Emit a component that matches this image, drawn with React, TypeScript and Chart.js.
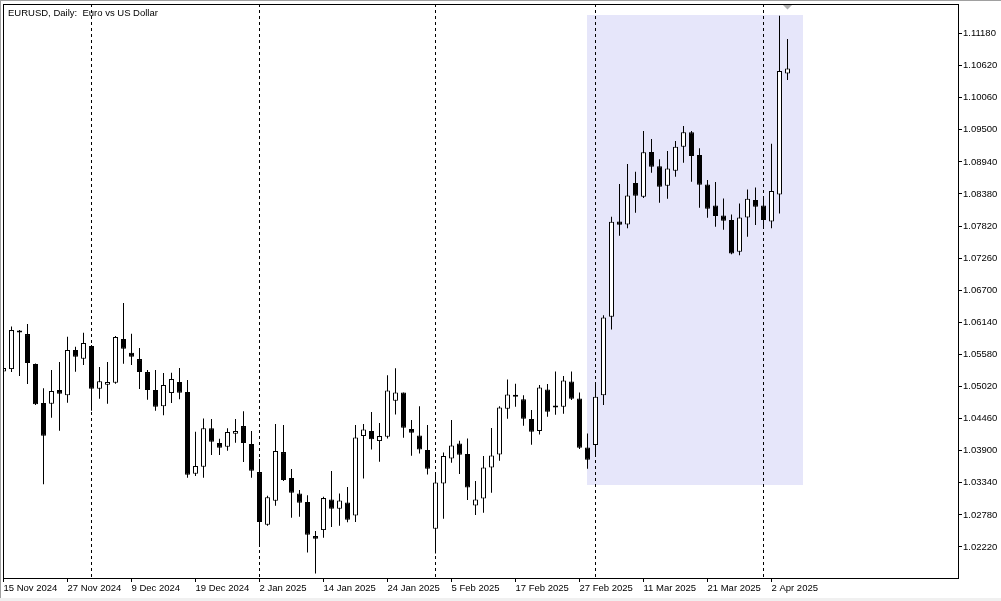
import { useEffect, useRef } from "react";
import { Chart, registerables } from "chart.js";

Chart.register(...registerables);

// ---- data -------------------------------------------------------------
const TITLE = "EURUSD, Daily:  Euro vs US Dollar";

const dates = [
  "2024-11-15", "2024-11-18", "2024-11-19", "2024-11-20", "2024-11-21", "2024-11-22", "2024-11-25", "2024-11-26", "2024-11-27", "2024-11-28", "2024-11-29",
  "2024-12-02", "2024-12-03", "2024-12-04", "2024-12-05", "2024-12-06", "2024-12-09", "2024-12-10", "2024-12-11", "2024-12-12", "2024-12-13",
  "2024-12-16", "2024-12-17", "2024-12-18", "2024-12-19", "2024-12-20", "2024-12-23", "2024-12-24", "2024-12-26", "2024-12-27", "2024-12-30", "2024-12-31",
  "2025-01-02", "2025-01-03", "2025-01-06", "2025-01-07", "2025-01-08", "2025-01-09", "2025-01-10", "2025-01-13", "2025-01-14", "2025-01-15", "2025-01-16", "2025-01-17",
  "2025-01-20", "2025-01-21", "2025-01-22", "2025-01-23", "2025-01-24", "2025-01-27", "2025-01-28", "2025-01-29", "2025-01-30", "2025-01-31",
  "2025-02-03", "2025-02-04", "2025-02-05", "2025-02-06", "2025-02-07", "2025-02-10", "2025-02-11", "2025-02-12", "2025-02-13", "2025-02-14",
  "2025-02-17", "2025-02-18", "2025-02-19", "2025-02-20", "2025-02-21", "2025-02-24", "2025-02-25", "2025-02-26", "2025-02-27", "2025-02-28",
  "2025-03-03", "2025-03-04", "2025-03-05", "2025-03-06", "2025-03-07", "2025-03-10", "2025-03-11", "2025-03-12", "2025-03-13", "2025-03-14",
  "2025-03-17", "2025-03-18", "2025-03-19", "2025-03-20", "2025-03-21", "2025-03-24", "2025-03-25", "2025-03-26", "2025-03-27", "2025-03-28", "2025-03-31",
  "2025-04-01", "2025-04-02", "2025-04-03", "2025-04-04",
];

const opens = [
  1.05281, 1.05324, 1.05996, 1.05935, 1.05412, 1.04731, 1.04718, 1.04958, 1.04870, 1.05656,
  1.05504, 1.05726, 1.04980, 1.05050, 1.05085, 1.05848, 1.05609, 1.05499, 1.05272, 1.04958,
  1.04678, 1.04906, 1.05097, 1.04923, 1.03497, 1.03620, 1.04290, 1.04033, 1.03969, 1.04195,
  1.04330, 1.04016, 1.03527, 1.02607, 1.03026, 1.03876, 1.03422, 1.03155, 1.03003, 1.02410,
  1.02515, 1.03050, 1.02886, 1.02998, 1.02771, 1.04155, 1.04243, 1.04068, 1.04143, 1.04771,
  1.04917, 1.04277, 1.04167, 1.03911, 1.02540, 1.03329, 1.03766, 1.04027, 1.03841, 1.02946,
  1.03068, 1.03609, 1.03836, 1.04631, 1.04870, 1.04800, 1.04452, 1.04243, 1.04969, 1.04652,
  1.04666, 1.05109, 1.04813, 1.03958, 1.03998, 1.04870, 1.06237, 1.07901, 1.07849, 1.08570,
  1.08330, 1.09111, 1.08866, 1.08523, 1.08784, 1.09204, 1.09455, 1.09061, 1.08547, 1.08180,
  1.08006, 1.07924, 1.07371, 1.07971, 1.08273, 1.08180, 1.07901, 1.08369, 1.10484,
];

const highs = [
  1.05351, 1.06066, 1.06005, 1.06110, 1.05420, 1.04992, 1.05307, 1.05447, 1.05888, 1.05714,
  1.05960, 1.05743, 1.05359, 1.05447, 1.05900, 1.06476, 1.05943, 1.05691, 1.05307, 1.05307,
  1.05254, 1.05260, 1.05342, 1.05132, 1.04230, 1.04464, 1.04452, 1.04108, 1.04290, 1.04452,
  1.04590, 1.04243, 1.03754, 1.03113, 1.04365, 1.04347, 1.03579, 1.03213, 1.03125, 1.02497,
  1.03096, 1.03545, 1.03155, 1.03265, 1.04347, 1.04365, 1.04577, 1.04382, 1.05219, 1.05337,
  1.04917, 1.04435, 1.04678, 1.04347, 1.03521, 1.03871, 1.04435, 1.04073, 1.04115, 1.03370,
  1.03806, 1.04295, 1.04678, 1.05144, 1.05068, 1.04870, 1.04609, 1.05045, 1.05063, 1.05284,
  1.05202, 1.05284, 1.04917, 1.04201, 1.05085, 1.06266, 1.07981, 1.08552, 1.08901, 1.08767,
  1.09478, 1.09338, 1.08984, 1.09128, 1.09303, 1.09565, 1.09478, 1.09176, 1.08622, 1.08587,
  1.08303, 1.08024, 1.08215, 1.08460, 1.08495, 1.08330, 1.09256, 1.11489, 1.11083,
];

const lows = [
  1.05272, 1.05272, 1.05202, 1.05063, 1.04696, 1.03317, 1.04474, 1.04247, 1.04736, 1.05277,
  1.05394, 1.04596, 1.04806, 1.04718, 1.05068, 1.05417, 1.05394, 1.04975, 1.04788, 1.04596,
  1.04521, 1.04731, 1.04800, 1.03428, 1.03457, 1.03428, 1.03824, 1.03824, 1.03899, 1.04039,
  1.03702, 1.03428, 1.02224, 1.02590, 1.02939, 1.03370, 1.02729, 1.02746, 1.02126, 1.01759,
  1.02380, 1.02568, 1.02590, 1.02650, 1.02654, 1.03417, 1.03923, 1.03707, 1.04115, 1.04533,
  1.04125, 1.03812, 1.03853, 1.03487, 1.02108, 1.02711, 1.03690, 1.03492, 1.03038, 1.02780,
  1.02816, 1.03165, 1.03725, 1.04457, 1.04666, 1.04335, 1.04004, 1.04185, 1.04492, 1.04527,
  1.04544, 1.04783, 1.03928, 1.03585, 1.03824, 1.04696, 1.06017, 1.07650, 1.07780, 1.08052,
  1.08308, 1.08750, 1.08226, 1.08296, 1.08679, 1.08924, 1.08592, 1.08139, 1.07964, 1.07807,
  1.07755, 1.07330, 1.07313, 1.07633, 1.07837, 1.07767, 1.07780, 1.08038, 1.10367,
];

const closes = [
  1.05342, 1.06005, 1.05965, 1.05429, 1.04713, 1.04160, 1.04940, 1.04893, 1.05656, 1.05539,
  1.05778, 1.04980, 1.05114, 1.05097, 1.05883, 1.05679, 1.05539, 1.05272, 1.04958, 1.04666,
  1.05045, 1.05150, 1.04910, 1.03480, 1.03632, 1.04290, 1.04056, 1.03951, 1.04225, 1.04242,
  1.04033, 1.03550, 1.02654, 1.03090, 1.03894, 1.03387, 1.03165, 1.02991, 1.02433, 1.02363,
  1.03073, 1.02886, 1.03033, 1.02694, 1.04132, 1.04272, 1.04098, 1.04155, 1.04952, 1.04917,
  1.04300, 1.04213, 1.03923, 1.03585, 1.03347, 1.03806, 1.03993, 1.03829, 1.03259, 1.03050,
  1.03609, 1.03818, 1.04656, 1.04882, 1.04840, 1.04457, 1.04230, 1.05004, 1.04579, 1.04661,
  1.05127, 1.04806, 1.03951, 1.03742, 1.04840, 1.06226, 1.07894, 1.07845, 1.08355, 1.08348,
  1.09106, 1.08854, 1.08505, 1.08826, 1.09204, 1.09455, 1.09043, 1.08540, 1.08121, 1.07994,
  1.07912, 1.07343, 1.07971, 1.08296, 1.08156, 1.07924, 1.08430, 1.10525, 1.10571,
];

const yTicks = [
  1.0222, 1.0278, 1.0334, 1.039, 1.0446, 1.0502, 1.0558, 1.0614, 1.067,
  1.0726, 1.0782, 1.0838, 1.0894, 1.095, 1.1006, 1.1062, 1.1118,
];

const MONTHS = ["Jan", "Feb", "Mar", "Apr", "May", "Jun", "Jul", "Aug", "Sep", "Oct", "Nov", "Dec"];
const LABEL_EVERY = 8; // a date label every 8 bars

// highlighted rectangle (bar index range and price range)
const RECT_FROM = 73;
const RECT_TO = 100;
const RECT_TOP = 1.11501;
const RECT_BOTTOM = 1.03306;

// axis ranges
const Y_MIN = 1.01679;
const Y_MAX = 1.11695;
const X_MIN = -0.0625;
const X_MAX = 119.3125;

// ---- styles -------------------------------------------------------------
const FONT = { family: "'Liberation Sans', Arial, sans-serif", size: 9.5 };
const RECT_COLOR = "#e6e6fa";

const fmtDate = (d: string) => {
  const [y, m, dd] = d.split("-");
  return `${Number(dd)} ${MONTHS[Number(m) - 1]} ${y}`;
};

const labelIdx = dates.map((_, i) => i).filter((i) => i % LABEL_EVERY === 0);
const sepIdx = dates
  .map((_, i) => i)
  .filter((i) => i > 0 && dates[i].slice(0, 7) !== dates[i - 1].slice(0, 7));

const zeroPad = (s: any) => {
  s.paddingTop = 0;
  s.paddingBottom = 0;
  s.paddingLeft = 0;
  s.paddingRight = 0;
};

const decor = {
  id: "decor",
  beforeDraw(chart: any) {
    const { ctx, scales } = chart;
    const x = scales.x;
    const y = scales.y;
    ctx.save();
    ctx.fillStyle = "#ffffff";
    ctx.fillRect(0, 0, chart.width, chart.height);
    const x1 = Math.floor(x.getPixelForValue(RECT_FROM));
    const x2 = Math.floor(x.getPixelForValue(RECT_TO));
    const y1 = Math.round(y.getPixelForValue(RECT_TOP));
    const y2 = Math.round(y.getPixelForValue(RECT_BOTTOM));
    ctx.fillStyle = RECT_COLOR;
    ctx.fillRect(x1, y1, x2 - x1, y2 - y1);
    ctx.restore();
  },
  beforeDatasetsDraw(chart: any) {
    // monthly period separators (dashed verticals)
    const { ctx, chartArea: a, scales } = chart;
    ctx.save();
    ctx.strokeStyle = "#000";
    ctx.lineWidth = 1;
    ctx.setLineDash([3, 3]);
    for (const i of sepIdx) {
      const px = Math.floor(scales.x.getPixelForValue(i)) + 0.5;
      ctx.beginPath();
      ctx.moveTo(px, a.top);
      ctx.lineTo(px, a.bottom);
      ctx.stroke();
    }
    ctx.restore();
  },
  afterDraw(chart: any) {
    const { ctx, chartArea: a, scales } = chart;
    ctx.save();
    // plot frame
    ctx.strokeStyle = "#000";
    ctx.lineWidth = 1;
    ctx.strokeRect(a.left + 0.5, a.top + 0.5, a.right - a.left, a.bottom - a.top);
    // title
    ctx.fillStyle = "#000";
    ctx.font = `${FONT.size}px ${FONT.family}`;
    ctx.textBaseline = "alphabetic";
    ctx.textAlign = "left";
    ctx.fillText(TITLE, 8, 16);
    // chart shift marker above the last bar
    const mx = scales.x.getPixelForValue(dates.length - 1);
    ctx.fillStyle = "#b0b0b0";
    ctx.beginPath();
    ctx.moveTo(mx - 4.5, a.top + 1);
    ctx.lineTo(mx + 4.5, a.top + 1);
    ctx.lineTo(mx, a.top + 5.5);
    ctx.closePath();
    ctx.fill();
    // window edges
    ctx.fillStyle = "#a0a0a0";
    ctx.fillRect(0, 0, chart.width, 1);
    ctx.fillRect(0, 0, 1, chart.height);
    ctx.fillStyle = "#f0f0f0";
    ctx.fillRect(0, chart.height - 3, chart.width, 3);
    ctx.restore();
  },
};

export default function App() {
  const ref = useRef<HTMLCanvasElement | null>(null);

  useEffect(() => {
    document.body.style.margin = "0";
    const canvas = ref.current;
    if (!canvas) return;

    const wickData = dates.map((_, i) => ({ x: i, y: [lows[i], highs[i]] }));
    const bodyData = dates.map((_, i) => ({
      x: i,
      y: [Math.min(opens[i], closes[i]), Math.max(opens[i], closes[i])],
    }));
    const bodyColors = dates.map((_, i) => (closes[i] >= opens[i] ? "#ffffff" : "#000000"));

    const chart = new Chart(canvas, {
      type: "bar",
      data: {
        datasets: [
          {
            label: "wick",
            data: wickData as any,
            backgroundColor: "#000000",
            borderWidth: 0,
            barThickness: 1,
            grouped: false,
            inflateAmount: 0,
            order: 2,
            clip: 0 as any,
          } as any,
          {
            label: "body",
            data: bodyData as any,
            backgroundColor: bodyColors,
            borderColor: "#000000",
            borderWidth: 1,
            borderSkipped: false,
            barThickness: 5,
            minBarLength: 2,
            grouped: false,
            inflateAmount: 0,
            order: 1,
            clip: 0 as any,
          } as any,
        ],
      },
      options: {
        responsive: false,
        animation: false,
        devicePixelRatio: 1,
        events: [],
        layout: { padding: { left: 3, top: 4, right: 0, bottom: 0 } },
        plugins: {
          legend: { display: false },
          tooltip: { enabled: false },
          title: { display: false },
        },
        scales: {
          x: {
            type: "linear",
            position: "bottom",
            offset: false,
            min: X_MIN,
            max: X_MAX,
            afterBuildTicks: (s: any) => {
              s.ticks = labelIdx.map((v) => ({ value: v }));
            },
            afterFit: (s: any) => {
              s.height = 23;
              zeroPad(s);
            },
            ticks: {
              autoSkip: false,
              maxRotation: 0,
              minRotation: 0,
              align: "start",
              padding: 1,
              color: "#000",
              font: FONT,
              callback: (v: any) => fmtDate(dates[Number(v)] ?? ""),
            },
            grid: {
              display: true,
              offset: false,
              drawOnChartArea: false,
              drawTicks: true,
              tickLength: 4,
              color: "#000",
            },
            border: { display: true, color: "#000" },
          },
          y: {
            type: "linear",
            position: "right",
            min: Y_MIN,
            max: Y_MAX,
            afterBuildTicks: (s: any) => {
              s.ticks = yTicks.map((v) => ({ value: v }));
            },
            afterFit: (s: any) => {
              s.width = 43;
              zeroPad(s);
            },
            ticks: {
              autoSkip: false,
              padding: 1,
              color: "#000",
              font: FONT,
              callback: (v: any) => Number(v).toFixed(5),
            },
            grid: { display: true, drawOnChartArea: false, drawTicks: true, tickLength: 4, color: "#000" },
            border: { display: true, color: "#000" },
          },
        } as any,
      },
      plugins: [decor],
    });

    return () => chart.destroy();
  }, []);

  return (
    <div style={{ position: "absolute", left: 0, top: 0, width: 1001, height: 601 }}>
      <canvas ref={ref} width={1001} height={601} style={{ display: "block", width: 1001, height: 601 }} />
    </div>
  );
}
